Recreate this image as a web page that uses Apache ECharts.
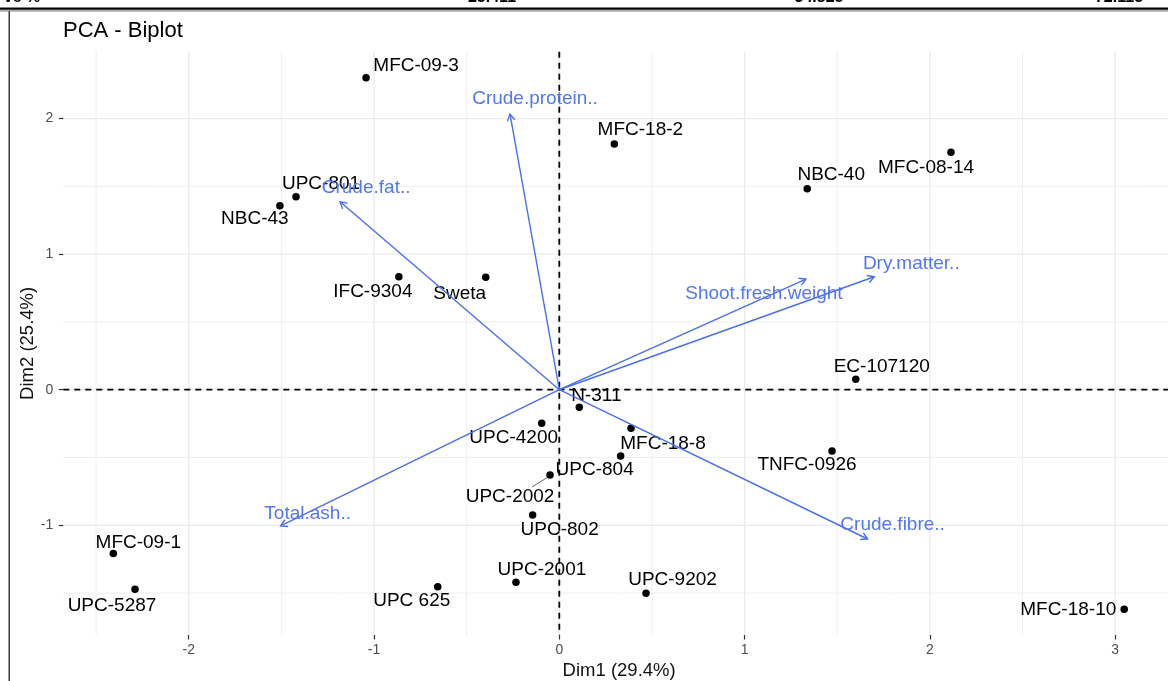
<!DOCTYPE html>
<html>
<head>
<meta charset="utf-8">
<title>PCA - Biplot</title>
<script src="https://cdn.jsdelivr.net/npm/echarts@6/dist/echarts.min.js"></script>
<style>
  html, body { margin: 0; padding: 0; background: #fff; }
  #chart { width: 1168px; height: 681px; }
</style>
</head>
<body>
<div id="chart"></div>
<script>
// Individuals (genotypes) on the first two principal components
const genotypes = ['MFC-09-3', 'UPC-801', 'NBC-43', 'IFC-9304', 'Sweta', 'MFC-18-2', 'NBC-40', 'MFC-08-14',
  'EC-107120', 'TNFC-0926', 'MFC-18-10', 'N-311', 'UPC-4200', 'MFC-18-8', 'UPC-804', 'UPC-2002',
  'UPC-802', 'UPC-2001', 'UPC 625', 'UPC-9202', 'MFC-09-1', 'UPC-5287'];
const dim1 = [-1.043, -1.421, -1.508, -0.866, -0.397, 0.297, 1.338, 2.114,
  1.600, 1.472, 3.049, 0.108, -0.095, 0.387, 0.331, -0.050,
  -0.144, -0.234, -0.656, 0.468, -2.407, -2.290];
const dim2 = [2.301, 1.423, 1.357, 0.833, 0.829, 1.812, 1.482, 1.751,
  0.077, -0.452, -1.620, -0.130, -0.248, -0.285, -0.489, -0.629,
  -0.924, -1.420, -1.453, -1.501, -1.207, -1.472];

// Variable loadings (arrows)
const variables = ['Crude.protein..', 'Crude.fat..', 'Shoot.fresh.weight', 'Dry.matter..', 'Total.ash..', 'Crude.fibre..'];
const varDim1 = [-0.266, -1.183, 1.331, 1.700, -1.504, 1.664];
const varDim2 = [2.033, 1.386, 0.816, 0.833, -1.005, -1.101];

// Axis ticks and grid
const xTicks = [-2, -1, 0, 1, 2, 3];
const yTicks = [-1, 0, 1, 2];
const xMinor = [-2.5, -1.5, -0.5, 0.5, 1.5, 2.5];
const yMinor = [-1.5, -0.5, 0.5, 1.5];

// Header row of the variance table above the plot
const headerCells = ['ve %', '25.411', '34.825', '72.115'];

// Label placement (pixel nudges from each mark, repel-style)
const pointNudge = {
  'MFC-09-3': [50, -12], 'UPC-801': [25, -13], 'NBC-43': [-25, 13], 'IFC-9304': [-26, 15],
  'Sweta': [-26, 16], 'MFC-18-2': [26, -14], 'NBC-40': [24, -14], 'MFC-08-14': [-25, 15],
  'EC-107120': [26, -13], 'TNFC-0926': [-25, 14], 'MFC-18-10': [-56, 0], 'N-311': [17, -12],
  'UPC-4200': [-28, 14], 'MFC-18-8': [32, 15], 'UPC-804': [-26, 14], 'UPC-2002': [-40, 22],
  'UPC-802': [27, 15], 'UPC-2001': [26, -12], 'UPC 625': [-26, 14], 'UPC-9202': [26.5, -13],
  'MFC-09-1': [25, -11], 'UPC-5287': [-23, 16]
};
const leaderSegments = { 'UPC-2002': [[-2, 2], [-18, 12]] };
const varNudge = {
  'Crude.protein..': [25, -15], 'Crude.fat..': [26, -14], 'Shoot.fresh.weight': [-42, 15],
  'Dry.matter..': [37, -13], 'Total.ash..': [27, -12], 'Crude.fibre..': [25, -14]
};
const headerX = [22, 492, 819, 1119];

const FONT = 'Liberation Sans, Arial, Helvetica, sans-serif';
const BLUE_LINE = '#4a6fec';
const BLUE_TEXT = '#5577ee';

const chart = echarts.init(document.getElementById('chart'), null, { renderer: 'canvas' });

const gridItems = []
  .concat(xMinor.map(v => [0, v, 0]))
  .concat(yMinor.map(v => [1, v, 0]))
  .concat(xTicks.map(v => [0, v, 1]))
  .concat(yTicks.map(v => [1, v, 1]));

const pointData = genotypes.map((g, i) => ({
  name: g,
  value: [dim1[i], dim2[i]],
  label: { offset: pointNudge[g] || [0, -14] }
}));

const leaderData = genotypes
  .map((g, i) => [dim1[i], dim2[i], i])
  .filter(d => leaderSegments[genotypes[d[2]]]);

const varData = variables.map((v, i) => ({ name: v, value: [varDim1[i], varDim2[i]] }));

const option = {
  backgroundColor: '#ffffff',
  animation: false,
  title: {
    text: 'PCA - Biplot',
    left: 63, top: 20, padding: 0,
    textStyle: { fontFamily: FONT, fontSize: 22, fontWeight: 'normal', color: '#000' }
  },
  grid: { left: 63.3, top: 51.7, width: 1111.7, height: 583.3, outerBoundsMode: 'none', containLabel: false },
  xAxis: {
    type: 'value', min: -2.677, max: 3.323,
    name: 'Dim1 (29.4%)', nameLocation: 'middle', nameGap: 26, nameMoveOverlap: false,
    nameTextStyle: { fontFamily: FONT, fontSize: 18.5, color: '#111' },
    axisLine: { show: false, onZero: false },
    axisTick: { show: true, customValues: xTicks, length: 4.5, lineStyle: { color: '#333', width: 1.2 } },
    axisLabel: { customValues: xTicks, color: '#4d4d4d', fontFamily: FONT, fontSize: 14, margin: 8 },
    splitLine: { show: false }, minorSplitLine: { show: false }
  },
  yAxis: {
    type: 'value', min: -1.809, max: 2.493,
    name: 'Dim2 (25.4%)', nameLocation: 'middle', nameGap: 26, nameRotate: 90, nameMoveOverlap: false,
    nameTextStyle: { fontFamily: FONT, fontSize: 18.5, color: '#111' },
    axisLine: { show: false, onZero: false },
    axisTick: { show: true, customValues: yTicks, length: 4.5, lineStyle: { color: '#333', width: 1.2 } },
    axisLabel: { customValues: yTicks, color: '#4d4d4d', fontFamily: FONT, fontSize: 14, margin: 10 },
    splitLine: { show: false }, minorSplitLine: { show: false }
  },
  graphic: [
    ...headerCells.map((t, i) => ({
      type: 'text', x: headerX[i], y: 6, silent: true,
      style: { text: t, fill: '#000', font: 'bold 16px ' + FONT, align: 'center', verticalAlign: 'bottom' }
    })),
    { type: 'rect', silent: true, shape: { x: 0, y: 7.5, width: 1168, height: 2.2 }, style: { fill: '#000' } },
    { type: 'rect', silent: true, shape: { x: 0, y: 10.2, width: 1168, height: 1.2 }, style: { fill: '#8a8a8a' } },
    { type: 'rect', silent: true, shape: { x: 8.5, y: 11, width: 1.5, height: 670 }, style: { fill: '#3a3a3a' } }
  ],
  series: [
    {
      // panel grid lines (major and minor)
      type: 'custom', z: 0, silent: true, clip: false,
      data: gridItems,
      renderItem(params, api) {
        const cs = params.coordSys;
        const kind = api.value(0), v = api.value(1), major = api.value(2);
        let shape;
        if (kind === 0) {
          const x = api.coord([v, 0])[0];
          shape = { x1: x, y1: cs.y, x2: x, y2: cs.y + cs.height };
        } else {
          const y = api.coord([0, v])[1];
          shape = { x1: cs.x, y1: y, x2: cs.x + cs.width, y2: y };
        }
        return { type: 'line', shape, style: { stroke: '#ebebeb', lineWidth: major ? 1.3 : 0.8, fill: 'none' } };
      }
    },
    {
      type: 'scatter', z: 2, silent: true,
      symbol: 'circle', symbolSize: 7.5,
      itemStyle: { color: '#000', opacity: 1 },
      label: {
        show: true, position: 'inside', formatter: '{b}',
        color: '#000', opacity: 1, fontFamily: FONT, fontSize: 19, textBorderWidth: 0
      },
      data: pointData
    },
    {
      // leader segments for displaced labels
      type: 'custom', z: 2, silent: true,
      data: leaderData,
      renderItem(params, api) {
        const p = api.coord([api.value(0), api.value(1)]);
        const seg = leaderSegments[genotypes[api.value(2)]];
        return {
          type: 'line',
          shape: { x1: p[0] + seg[0][0], y1: p[1] + seg[0][1], x2: p[0] + seg[1][0], y2: p[1] + seg[1][1] },
          style: { stroke: '#666', lineWidth: 1, fill: 'none' }
        };
      }
    },
    {
      // dashed reference lines through the origin
      type: 'custom', z: 3, silent: true,
      data: [[0, 0], [1, 0]],
      renderItem(params, api) {
        const cs = params.coordSys;
        const o = api.coord([0, 0]);
        const shape = api.value(0) === 0
          ? { x1: o[0], y1: cs.y, x2: o[0], y2: cs.y + cs.height }
          : { x1: cs.x, y1: o[1], x2: cs.x + cs.width, y2: o[1] };
        return { type: 'line', shape, style: { stroke: '#000', lineWidth: 1.8, lineDash: [6, 5], fill: 'none' } };
      }
    },
    {
      // variable arrows with open heads
      type: 'custom', z: 4, silent: true,
      data: varData,
      renderItem(params, api) {
        const o = api.coord([0, 0]);
        const t = api.coord([api.value(0), api.value(1)]);
        const ang = Math.atan2(t[1] - o[1], t[0] - o[0]);
        const L = 7.5, A = Math.PI / 6;
        const w1 = [t[0] - L * Math.cos(ang - A), t[1] - L * Math.sin(ang - A)];
        const w2 = [t[0] - L * Math.cos(ang + A), t[1] - L * Math.sin(ang + A)];
        const name = variables[params.dataIndex];
        const off = varNudge[name] || [0, -14];
        return {
          type: 'group',
          children: [
            { type: 'line', shape: { x1: o[0], y1: o[1], x2: t[0], y2: t[1] }, style: { stroke: BLUE_LINE, lineWidth: 1.4, fill: 'none' } },
            { type: 'polyline', shape: { points: [w1, t, w2] }, style: { stroke: BLUE_LINE, lineWidth: 1.4, fill: 'none' } },
            {
              type: 'text',
              style: {
                x: t[0] + off[0], y: t[1] + off[1], text: name,
                fill: BLUE_TEXT, font: '19px ' + FONT, align: 'center', verticalAlign: 'middle'
              }
            }
          ]
        };
      }
    }
  ]
};

chart.setOption(option);
</script>
</body>
</html>
